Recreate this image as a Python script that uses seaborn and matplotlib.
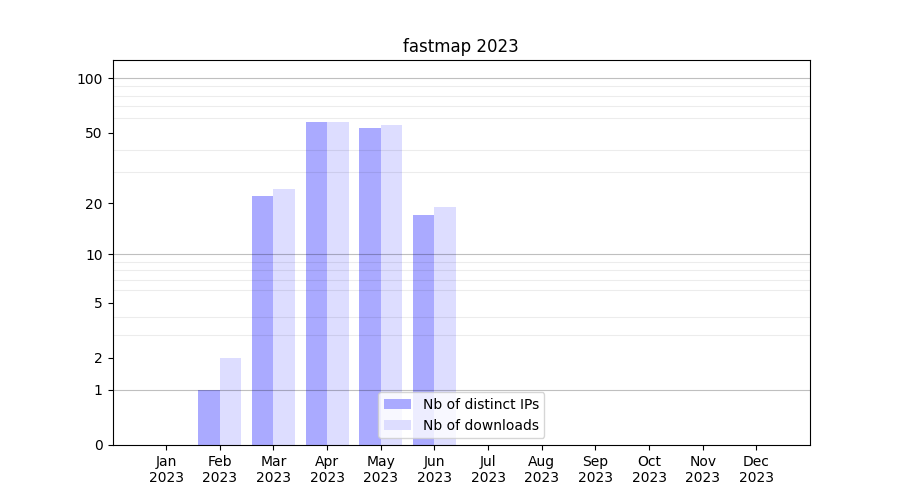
import numpy as np
import pandas as pd
import seaborn as sbn
import matplotlib
matplotlib.use('Agg')
import matplotlib.pyplot as plt

# monthly stats
months = ['Jan', 'Feb', 'Mar', 'Apr', 'May', 'Jun',
          'Jul', 'Aug', 'Sep', 'Oct', 'Nov', 'Dec']
year = '2023'
distinct_ips = [0, 1, 22, 57, 53, 17, 0, 0, 0, 0, 0, 0]
downloads = [0, 2, 24, 57, 55, 19, 0, 0, 0, 0, 0, 0]
series_names = ['Nb of distinct IPs', 'Nb of downloads']
colors = ['#aaaaff', '#ddddff']

labels = [m + '\n' + year for m in months]
data = pd.DataFrame({
    'month': labels * 2,
    'value': distinct_ips + downloads,
    'series': [series_names[0]] * len(labels) + [series_names[1]] * len(labels),
})

fig, ax = plt.subplots(figsize=(9, 5), dpi=100)
sbn.barplot(data=data, x='month', y='value', hue='series', palette=colors,
            saturation=1, width=0.8, linewidth=0, ax=ax)

# log(1+x) scale so zero stays on the axis
ax.set_yscale('function', functions=(np.log1p, np.expm1))
ax.set_ylim(0, 126)
ax.set_xlim(-1, 12)

ax.set_yticks([0, 1, 2, 5, 10, 20, 50, 100])
ax.set_yticklabels(['0', '1', '2', '5', '10', '20', '50', '100'])
minor = list(range(2, 10)) + list(range(20, 100, 10))
ax.set_yticks(minor, minor=True)
ax.tick_params(axis='y', which='minor', length=0)

# grid goes over the bars, semi transparent
ax.set_axisbelow(False)
ax.grid(axis='y', which='minor', color='black', alpha=0.075, linewidth=0.8)
for v in [1, 10, 100]:
    ax.axhline(v, color='black', alpha=0.25, linewidth=0.8, zorder=2.5)

ax.set_xlabel('')
ax.set_ylabel('')
ax.set_title('fastmap ' + year)
ax.legend(loc='lower center')

plt.savefig('out.png', dpi=100)
